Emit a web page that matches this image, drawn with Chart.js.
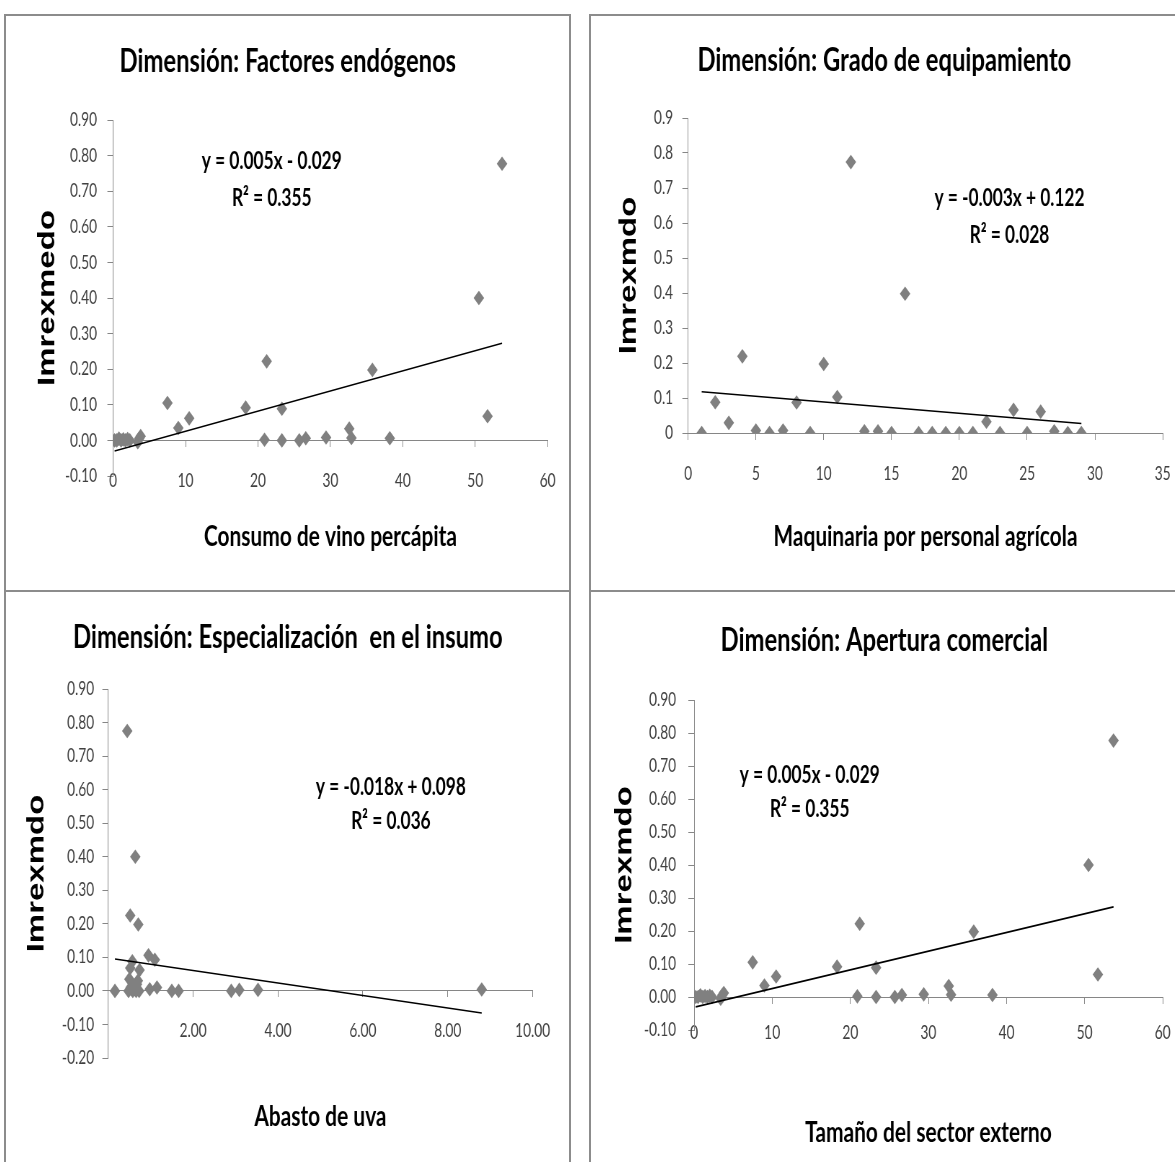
<!DOCTYPE html>
<html>
<head>
<meta charset="utf-8">
<title>Imrexmedo por dimensión</title>
<script src="https://cdn.jsdelivr.net/npm/chart.js@4.4.1/dist/chart.umd.min.js"></script>
<style>
  html, body { margin: 0; padding: 0; background: #fff; overflow: hidden; }
  body { width: 1175px; height: 1162px; position: relative; }
  .panel { position: absolute; box-sizing: border-box; border: 2px solid #8c8c8c; overflow: hidden; background: #fff; }
  .inner { position: absolute; left: 0; top: 0; transform-origin: 0 0; }
</style>
</head>
<body>
<div class="panel" id="p1" style="left:4px;top:14px;width:567px;height:578px"><div class="inner"><canvas id="chart1"></canvas></div></div>
<div class="panel" id="p2" style="left:589px;top:14px;width:590px;height:578px"><div class="inner"><canvas id="chart2"></canvas></div></div>
<div class="panel" id="p3" style="left:4px;top:590px;width:567px;height:580px"><div class="inner"><canvas id="chart3"></canvas></div></div>
<div class="panel" id="p4" style="left:589px;top:590px;width:590px;height:580px"><div class="inner"><canvas id="chart4"></canvas></div></div>

<script>
// the source picture is squeezed sideways, so every chart is drawn wide and scaled down in x
const SQUASH = 0.72;
const FONT = 'Lato, "Open Sans", sans-serif';
const AXIS = '#868686';
const Y_TITLE_SIZE = 33;

// Consumo de vino percápita vs Imrexmedo
const consumoX = [0.2, 0.5, 0.8, 1.1, 1.4, 1.7, 2.0, 2.3, 3.4, 3.6, 3.8,
    7.5, 9.0, 10.5, 18.3, 20.9, 21.2, 23.3, 23.3, 25.7, 26.6, 29.4, 32.6, 32.9, 35.8, 38.2, 50.5, 51.7, 53.7];
const consumoY = [0, 0, 0.005, 0, 0.003, 0, 0.004, 0, -0.005, 0.005, 0.012,
    0.105, 0.035, 0.062, 0.092, 0.002, 0.222, 0.089, 0, 0, 0.006, 0.008, 0.033, 0.007, 0.198, 0.006, 0.40, 0.068, 0.777];
const consumoTrendX = [0.2, 53.7];
const consumoTrendY = [-0.030, 0.273];

// Maquinaria por personal agrícola vs Imrexmdo
const maquinariaX = [1, 2, 3, 4, 5, 6, 7, 8, 9, 10, 11, 12, 13, 14, 15, 16, 17, 18, 19, 20, 21, 22, 23, 24, 25, 26, 27, 28, 29];
const maquinariaY = [0, 0.088, 0.029, 0.219, 0.007, 0, 0.007, 0.087, 0, 0.197, 0.103, 0.774, 0.005, 0.005, 0,
    0.398, 0, 0, 0, 0, 0, 0.032, 0, 0.066, 0, 0.061, 0.005, 0, 0];
const maquinariaTrendX = [1, 29];
const maquinariaTrendY = [0.118, 0.027];

// Abasto de uva vs Imrexmdo
const abastoX = [0.45, 0.64, 0.52, 0.71, 0.95, 1.10, 0.57, 0.52, 0.74, 0.50, 0.70,
    0.16, 0.48, 0.55, 0.58, 0.62, 0.66, 0.73, 0.98, 1.15, 1.50, 1.66, 2.90, 3.09, 3.53, 8.80, 0.60, 0.68, 0.53];
const abastoY = [0.775, 0.40, 0.225, 0.198, 0.106, 0.093, 0.088, 0.068, 0.062, 0.035, 0.030,
    0, 0, 0.005, 0, 0.008, 0, 0, 0.005, 0.01, 0, 0, 0, 0.003, 0.003, 0.004, 0.015, 0.02, 0.01];
const abastoTrendX = [0.16, 8.8];
const abastoTrendY = [0.095, -0.066];

// Tamaño del sector externo: same values as the first panel
const tamanoX = consumoX;
const tamanoY = consumoY;
const tamanoTrendX = consumoTrendX;
const tamanoTrendY = consumoTrendY;

// equation text boxes, placed in data units
const equationLabel = {
    id: 'equation',
    afterDatasetsDraw(chart, args, opts) {
        const ctx = chart.ctx;
        const x = chart.scales.x;
        const y = chart.scales.y;
        ctx.save();
        ctx.font = 'bold 24px ' + FONT;
        ctx.fillStyle = '#000';
        ctx.textAlign = 'center';
        ctx.textBaseline = 'middle';
        opts.lines.forEach(function(l) {
            ctx.fillText(l.text, x.getPixelForValue(l.x), y.getPixelForValue(l.y));
        });
        ctx.restore();
    }
};

function fixed(d) {
    return function(v) { return v.toFixed(d); };
}

function drawPanel(panelId, canvasId, p) {
    const panel = document.getElementById(panelId);
    const inner = panel.querySelector('.inner');
    inner.style.width = (panel.clientWidth / SQUASH) + 'px';
    inner.style.height = panel.clientHeight + 'px';
    inner.style.transform = 'scaleX(' + SQUASH + ')';

    // horizontal spots are given in page pixels, turn them into unsqueezed canvas pixels
    const L = p.layout;
    const originX = panel.offsetLeft + panel.clientLeft;
    const axisLeft = (L.axisX - originX) / SQUASH;
    const rightPad = (originX + panel.clientWidth - L.rightX) / SQUASH;
    const yLabelPad = (L.axisX - L.yLabelRight) / SQUASH - 8;
    const yTitlePad = (L.yTitleX - originX) / SQUASH - 0.6 * Y_TITLE_SIZE;

    const tickFont = { family: FONT, size: 19 };

    return new Chart(document.getElementById(canvasId), {
        type: 'scatter',
        data: {
            datasets: [
                {
                    label: 'Tendencia',
                    data: p.trendX.map((x, i) => ({ x: x, y: p.trendY[i] })),
                    showLine: true,
                    borderColor: '#000',
                    borderWidth: 1.6,
                    pointRadius: 0,
                    fill: false
                },
                {
                    label: p.yTitle,
                    data: p.xs.map((x, i) => ({ x: x, y: p.ys[i] })),
                    pointStyle: 'rectRot',
                    pointRadius: 7.3,
                    backgroundColor: '#808080',
                    borderColor: '#808080',
                    borderWidth: 0
                }
            ]
        },
        options: {
            responsive: true,
            maintainAspectRatio: false,
            animation: false,
            layout: { padding: 0 },
            plugins: {
                legend: { display: false },
                tooltip: { enabled: false },
                title: {
                    display: true,
                    text: p.title,
                    color: '#000',
                    font: { family: FONT, size: 33, weight: 'bold' },
                    padding: { top: L.titleTop, bottom: L.titleBottom }
                },
                subtitle: {
                    display: true,
                    position: 'bottom',
                    fullSize: false,
                    text: p.xTitle,
                    color: '#000',
                    font: { family: FONT, size: 29, weight: 'bold' },
                    padding: { top: L.xTitleTop, bottom: L.xTitleBottom }
                },
                equation: { lines: p.eq }
            },
            scales: {
                x: {
                    type: 'linear',
                    position: { y: 0 },
                    min: p.xMin,
                    max: p.xMax,
                    // the right margin is set here so the title stays centred on the whole canvas
                    afterFit: function(scale) {
                        scale.paddingLeft = 0;
                        scale.paddingRight = rightPad;
                    },
                    border: { color: AXIS, width: 1 },
                    grid: { drawOnChartArea: false, drawTicks: true, tickLength: 6, color: AXIS },
                    ticks: {
                        stepSize: p.xStep,
                        padding: L.xLabelPad,
                        color: '#404040',
                        font: tickFont,
                        maxRotation: 0,
                        autoSkip: false,
                        callback: p.xFormat
                    }
                },
                y: {
                    type: 'linear',
                    position: 'left',
                    min: p.yMin,
                    max: p.yMax,
                    afterFit: function(scale) { scale.width = axisLeft; },
                    border: { color: AXIS, width: 1 },
                    grid: { drawOnChartArea: false, drawTicks: true, tickLength: 8, color: AXIS },
                    ticks: {
                        stepSize: 0.1,
                        padding: yLabelPad,
                        color: '#404040',
                        font: tickFont,
                        callback: p.yFormat
                    },
                    title: {
                        display: true,
                        text: p.yTitle,
                        color: '#000',
                        font: { family: '"Liberation Sans", Arial, sans-serif', size: Y_TITLE_SIZE, weight: 'bold' },
                        padding: { top: yTitlePad, bottom: 0 }
                    }
                }
            }
        },
        plugins: [equationLabel]
    });
}

drawPanel('p1', 'chart1', {
    title: 'Dimensión: Factores endógenos',
    xTitle: 'Consumo de vino percápita',
    yTitle: 'Imrexmedo',
    xs: consumoX, ys: consumoY, trendX: consumoTrendX, trendY: consumoTrendY,
    xMin: 0, xMax: 60, xStep: 10, xFormat: fixed(0),
    yMin: -0.1, yMax: 0.9, yFormat: fixed(2),
    eq: [{ text: 'y = 0.005x - 0.029', x: 21.9, y: 0.785 }, { text: 'R² = 0.355', x: 21.9, y: 0.68 }],
    layout: { axisX: 113, rightX: 547, yLabelRight: 97, yTitleX: 48,
              titleTop: 25.2, titleBottom: 39.2, xTitleTop: 43.6, xTitleBottom: 35.6, xLabelPad: 22.6 }
});

drawPanel('p2', 'chart2', {
    title: 'Dimensión: Grado de equipamiento',
    xTitle: 'Maquinaria por personal agrícola',
    yTitle: 'Imrexmdo',
    xs: maquinariaX, ys: maquinariaY, trendX: maquinariaTrendX, trendY: maquinariaTrendY,
    xMin: 0, xMax: 35, xStep: 5, xFormat: fixed(0),
    yMin: 0, yMax: 0.9, yFormat: function(v) { return String(Number(v.toFixed(1))); },
    eq: [{ text: 'y = -0.003x + 0.122', x: 23.7, y: 0.671 }, { text: 'R² = 0.028', x: 23.7, y: 0.565 }],
    layout: { axisX: 688, rightX: 1162, yLabelRight: 673, yTitleX: 629,
              titleTop: 24.2, titleBottom: 38.2, xTitleTop: 86.6, xTitleBottom: 35.6, xLabelPad: 23.6 }
});

drawPanel('p3', 'chart3', {
    title: 'Dimensión: Especialización  en el insumo',
    xTitle: 'Abasto de uva',
    yTitle: 'Imrexmdo',
    xs: abastoX, ys: abastoY, trendX: abastoTrendX, trendY: abastoTrendY,
    xMin: 0, xMax: 10, xStep: 2, xFormat: function(v) { return v === 0 ? '' : v.toFixed(2); },
    yMin: -0.2, yMax: 0.9, yFormat: fixed(2),
    eq: [{ text: 'y = -0.018x + 0.098', x: 6.66, y: 0.607 }, { text: 'R² = 0.036', x: 6.66, y: 0.505 }],
    layout: { axisX: 108, rightX: 532, yLabelRight: 94, yTitleX: 37,
              titleTop: 25.2, titleBottom: 32.2, xTitleTop: 41.6, xTitleBottom: 33.6, xLabelPad: 22.6 }
});

drawPanel('p4', 'chart4', {
    title: 'Dimensión: Apertura comercial',
    xTitle: 'Tamaño del sector externo',
    yTitle: 'Imrexmdo',
    xs: tamanoX, ys: tamanoY, trendX: tamanoTrendX, trendY: tamanoTrendY,
    xMin: 0, xMax: 60, xStep: 10, xFormat: fixed(0),
    yMin: -0.1, yMax: 0.9, yFormat: fixed(2),
    eq: [{ text: 'y = 0.005x - 0.029', x: 14.8, y: 0.671 }, { text: 'R² = 0.355', x: 14.8, y: 0.568 }],
    layout: { axisX: 694, rightX: 1162, yLabelRight: 676, yTitleX: 625,
              titleTop: 28.2, titleBottom: 40.2, xTitleTop: 85.6, xTitleBottom: 17.6, xLabelPad: 18.6 }
});
</script>
</body>
</html>
